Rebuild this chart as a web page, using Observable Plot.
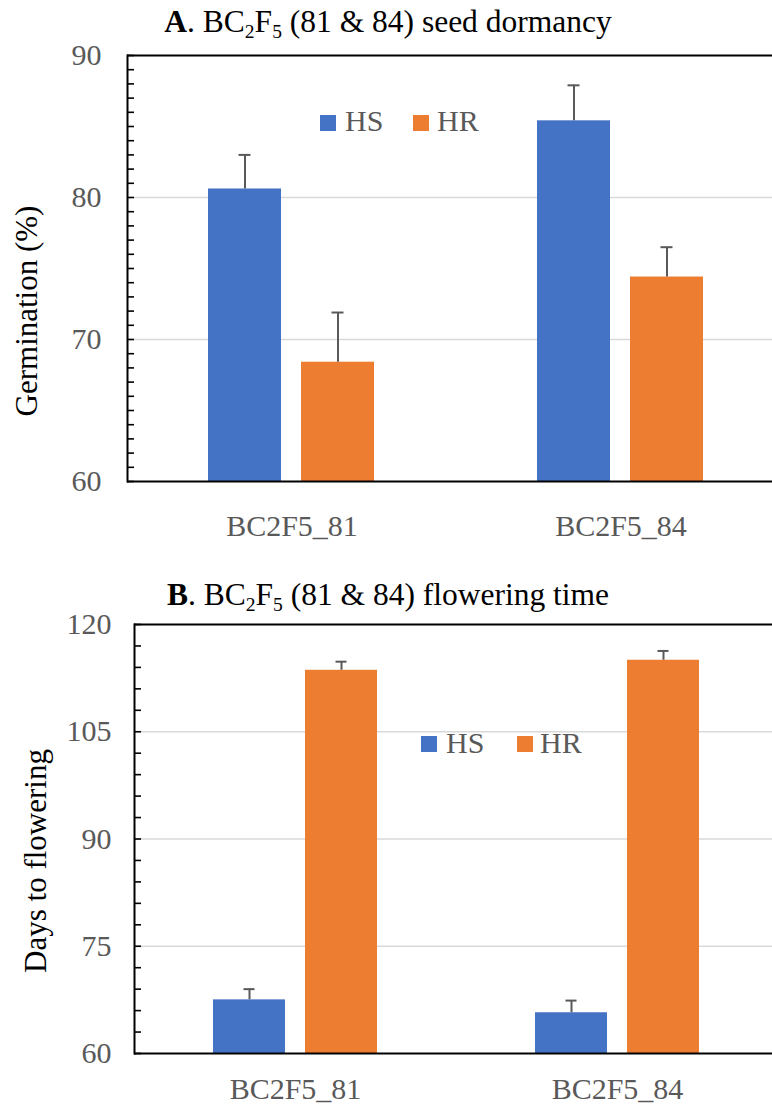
<!DOCTYPE html>
<html>
<head>
<meta charset="utf-8">
<script src="https://cdn.jsdelivr.net/npm/d3@7"></script>
<script src="https://cdn.jsdelivr.net/npm/@observablehq/plot@0.6"></script>
<style>
  html, body { margin: 0; padding: 0; background: #fff; }
  #wrap { position: relative; width: 772px; height: 1107px; overflow: hidden; font-family: "Liberation Serif", "DejaVu Serif", serif; }
  .abs { position: absolute; white-space: nowrap; line-height: 30px; }
  .title { font-size: 31.5px; color: #000; left: 0; width: 776px; text-align: center; }
  .title .sub { font-size: 0.62em; position: relative; top: 0.32em; }
  .ylab { font-size: 31px; color: #000; transform: translate(-50%, -50%) rotate(-90deg); }
  .leg { font-size: 30px; color: #595959; }
  .sw { position: absolute; width: 16px; height: 16px; }
  #wrap svg { position: absolute; left: 0; max-width: none !important; font-family: "Liberation Serif", serif !important; }
  #wrap svg text { font-family: "Liberation Serif", serif !important; }
</style>
</head>
<body>
<div id="wrap"></div>
<script>
// ---------- data ----------
const categories = ["BC2F5_81", "BC2F5_84"];
const series = ["HS", "HR"];
const seriesColors = ["#4472C4", "#ED7D31"];

// Panel A: seed dormancy, germination (%)
const germHS = [80.6, 85.4];
const germHSErr = [2.4, 2.5];
const germHR = [68.4, 74.4];
const germHRErr = [3.5, 2.1];
const germDomain = [60, 90];
const germTicks = [60, 70, 80, 90];
const germMinor = d3.range(60, 91, 1);

// Panel B: flowering time, days to flowering
const flowHS = [67.5, 65.7];
const flowHSErr = [1.5, 1.7];
const flowHR = [113.6, 115.0];
const flowHRErr = [1.2, 1.3];
const flowDomain = [60, 120];
const flowTicks = [60, 75, 90, 105, 120];
const flowMinor = d3.range(60, 121, 3);

const SERIF = "Liberation Serif";

function table(hs, hsErr, hr, hrErr) {
  return categories.flatMap((c, i) => [
    {category: c, series: "HS", value: hs[i], err: hsErr[i]},
    {category: c, series: "HR", value: hr[i], err: hrErr[i]}
  ]);
}

function panel({data, domain, ticks, minor, width, height, marginLeft, marginTop, marginBottom,
                xPadInner, xPadOuter, fxPad, yPad}) {
  const base = domain[0];
  const grid = ticks.filter(t => t !== domain[0] && t !== domain[1]);
  const svg = Plot.plot({
    width, height, marginLeft, marginRight: 0, marginTop, marginBottom,
    style: {fontFamily: SERIF, background: "white", overflow: "visible"},
    fx: {domain: categories, padding: 0, label: null},
    x: {domain: series, paddingInner: xPadInner, paddingOuter: xPadOuter, axis: null},
    y: {domain, axis: null},
    color: {domain: series, range: seriesColors},
    marks: [
      Plot.gridY(grid, {stroke: "#d9d9d9", strokeOpacity: 1, strokeWidth: 1.6}),
      Plot.barY(data, {fx: "category", x: "series", y1: () => base, y2: "value", fill: "series"}),
      Plot.ruleX(data, {fx: "category", x: "series", y1: "value", y2: d => d.value + d.err, stroke: "#595959", strokeWidth: 2}),
      Plot.tickY(data, {fx: "category", x: "series", y: d => d.value + d.err, stroke: "#595959", strokeWidth: 2, insetLeft: 30.5, insetRight: 30.5}),
      Plot.ruleY(domain, {stroke: "black", strokeWidth: 2}),
      Plot.frame({anchor: "left", facetAnchor: "left", stroke: "black", strokeWidth: 2}),
      Plot.axisY(minor, {tickSize: -7, text: null, stroke: "black", strokeWidth: 1.6, label: null}),
      Plot.axisY(ticks, {tickSize: 0, tickPadding: yPad, fontSize: 30, fontFamily: SERIF, fill: "#595959", label: null}),
      Plot.axisFx({anchor: "bottom", tickSize: 0, tickPadding: fxPad, fontSize: 30, fontFamily: SERIF, fill: "#595959", label: null})
    ]
  });
  svg.setAttribute("font-family", SERIF);
  svg.querySelectorAll("text").forEach(t => t.setAttribute("font-family", SERIF));
  return svg;
}

const wrap = document.getElementById("wrap");

function addHTML(html) { wrap.insertAdjacentHTML("beforeend", html); }

// ---------- Panel A ----------
const svgA = panel({
  data: table(germHS, germHSErr, germHR, germHRErr),
  domain: germDomain, ticks: germTicks, minor: germMinor,
  width: 785, height: 545, marginLeft: 126, marginTop: 55, marginBottom: 64,
  xPadInner: 0.2128, xPadOuter: 0.859, fxPad: 33, yPad: 26
});
svgA.style.top = "0px";
wrap.appendChild(svgA);

addHTML(`<div class="abs title" style="top:7px"><b>A</b>. BC<span class="sub">2</span>F<span class="sub">5</span> (81 &amp; 84) seed dormancy</div>`);
addHTML(`<div class="abs ylab" style="left:27px;top:311px">Germination (%)</div>`);
addHTML(`<div class="sw" style="left:320px;top:115px;background:${seriesColors[0]}"></div>`);
addHTML(`<div class="abs leg" style="left:345px;top:106px">${series[0]}</div>`);
addHTML(`<div class="sw" style="left:413px;top:115px;background:${seriesColors[1]}"></div>`);
addHTML(`<div class="abs leg" style="left:437px;top:106px">${series[1]}</div>`);

// ---------- Panel B ----------
const svgB = panel({
  data: table(flowHS, flowHSErr, flowHR, flowHRErr),
  domain: flowDomain, ticks: flowTicks, minor: flowMinor,
  width: 778, height: 562, marginLeft: 133, marginTop: 79, marginBottom: 54,
  xPadInner: 0.215, xPadOuter: 0.841, fxPad: 24, yPad: 23
});
svgB.style.top = "545px";
wrap.appendChild(svgB);

addHTML(`<div class="abs title" style="top:580px"><b>B</b>. BC<span class="sub">2</span>F<span class="sub">5</span> (81 &amp; 84) flowering time</div>`);
addHTML(`<div class="abs ylab" style="left:36px;top:861px">Days to flowering</div>`);
addHTML(`<div class="sw" style="left:421px;top:736px;background:${seriesColors[0]}"></div>`);
addHTML(`<div class="abs leg" style="left:446px;top:728px">${series[0]}</div>`);
addHTML(`<div class="sw" style="left:517px;top:736px;background:${seriesColors[1]}"></div>`);
addHTML(`<div class="abs leg" style="left:540px;top:728px">${series[1]}</div>`);
</script>
</body>
</html>
